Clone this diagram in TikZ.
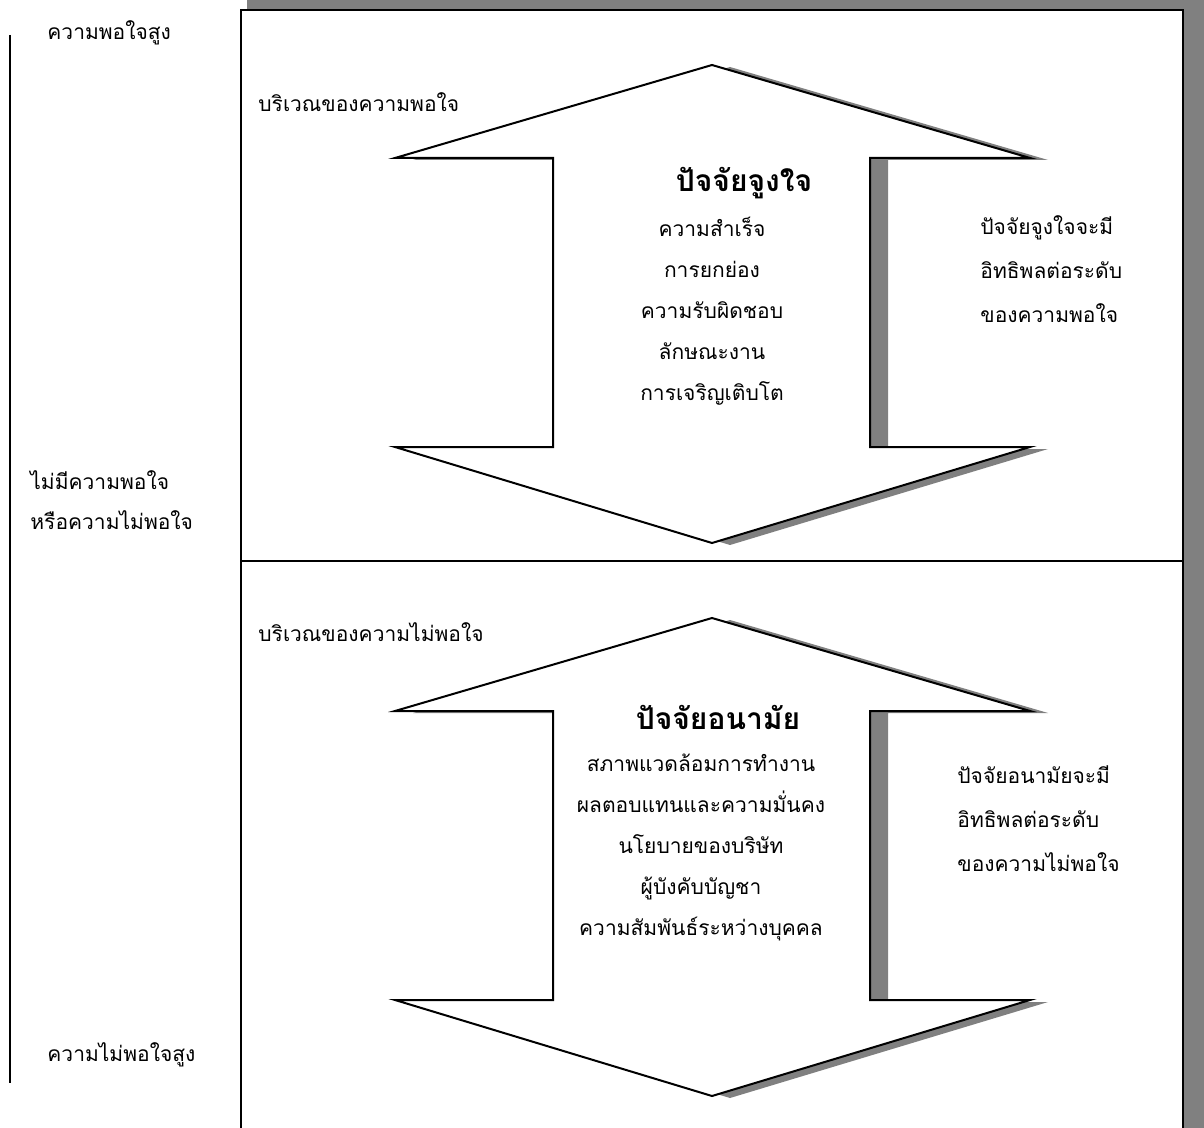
\documentclass[tikz,border=0pt]{standalone}
\usepackage{fontspec}
\newfontfamily\thaifont[Script=Thai]{Loma}
\usepackage{tikz}
\usetikzlibrary{calc,positioning}
\tikzset{
  % vlakken: kader, schaduw, dubbele pijl
  panel/.style={draw=black,line width=1pt,fill=white},
  shadow/.style={fill=black!50,draw=none},
  bigarrow/.style={draw=black,line width=1pt,fill=white,line join=miter},
  axis/.style={draw=black,line width=1pt},
  % tekststijlen
  thai/.style={font=\thaifont\fontsize{10.5}{20}\selectfont,inner sep=0pt},
  thailist/.style={font=\thaifont\fontsize{10.5}{20.5}\selectfont,inner sep=0pt,align=center},
  thainote/.style={font=\thaifont\fontsize{10.5}{22}\selectfont,inner sep=0pt,align=left,anchor=west},
  heading/.style={font=\thaifont\bfseries\fontsize{15}{18}\selectfont,inner sep=0pt},
}
\begin{document}
\begin{tikzpicture}[x=0.5pt,y=-0.5pt]
  \useasboundingbox (0,0) rectangle (1204,1128);
  % kader met schaduw
  \fill[shadow] (247,0) rectangle (1204,1128);
  \draw[panel] (241,10) rectangle (1183,1140);
  \coordinate (split-l) at (241,561);
  \coordinate (split-r) at (1183,561);
  \draw[axis] (split-l) -- (split-r);
  % verticale as links
  \coordinate (axis-top) at (10,35);
  \coordinate (axis-bot) at (10,1083);
  \draw[axis] (axis-top) -- (axis-bot);
  % dubbele pijlen
  \foreach \dy in {0,553} {
    \fill[shadow,shift={(18,2+\dy)}] (712,65) -- (1030,158) -- (870,158) -- (870,447) -- (1030,447)
      -- (712,543) -- (395,447) -- (553,447) -- (553,158) -- (395,158) -- cycle;
    \draw[bigarrow,shift={(0,\dy)}] (712,65) -- (1030,158) -- (870,158) -- (870,447) -- (1030,447)
      -- (712,543) -- (395,447) -- (553,447) -- (553,158) -- (395,158) -- cycle;
  }
  % schaal links
  \node[thai,anchor=west] (high) at (47,33) {ความพอใจสูง};
  \node[thai,anchor=west,align=left] (neutral) at (30,500) {ไม่มีความพอใจ\\หรือความไม่พอใจ};
  \node[thai,anchor=west] (low) at (47,1055) {ความไม่พอใจสูง};
  % bovenste vlak
  \node[thai,anchor=west] (zone-sat) at (258,102) {บริเวณของความพอใจ};
  \node[heading] (motivator) at (744,183) {ปัจจัยจูงใจ};
  \node[thailist] (motivator-list) at (712,311)
    {ความสำเร็จ\\การยกย่อง\\ความรับผิดชอบ\\ลักษณะงาน\\การเจริญเติบโต};
  \node[thainote] (motivator-note) at (980,269) {ปัจจัยจูงใจจะมี\\อิทธิพลต่อระดับ\\ของความพอใจ};
  % onderste vlak
  \node[thai,anchor=west] (zone-dis) at (258,632) {บริเวณของความไม่พอใจ};
  \node[heading] (hygiene) at (718,717) {ปัจจัยอนามัย};
  \node[thailist] (hygiene-list) at (701,847)
    {สภาพแวดล้อมการทำงาน\\ผลตอบแทนและความมั่นคง\\นโยบายของบริษัท\\ผู้บังคับบัญชา\\ความสัมพันธ์ระหว่างบุคคล};
  \node[thainote] (hygiene-note) at (957,819) {ปัจจัยอนามัยจะมี\\อิทธิพลต่อระดับ\\ของความไม่พอใจ};
\end{tikzpicture}
\end{document}
